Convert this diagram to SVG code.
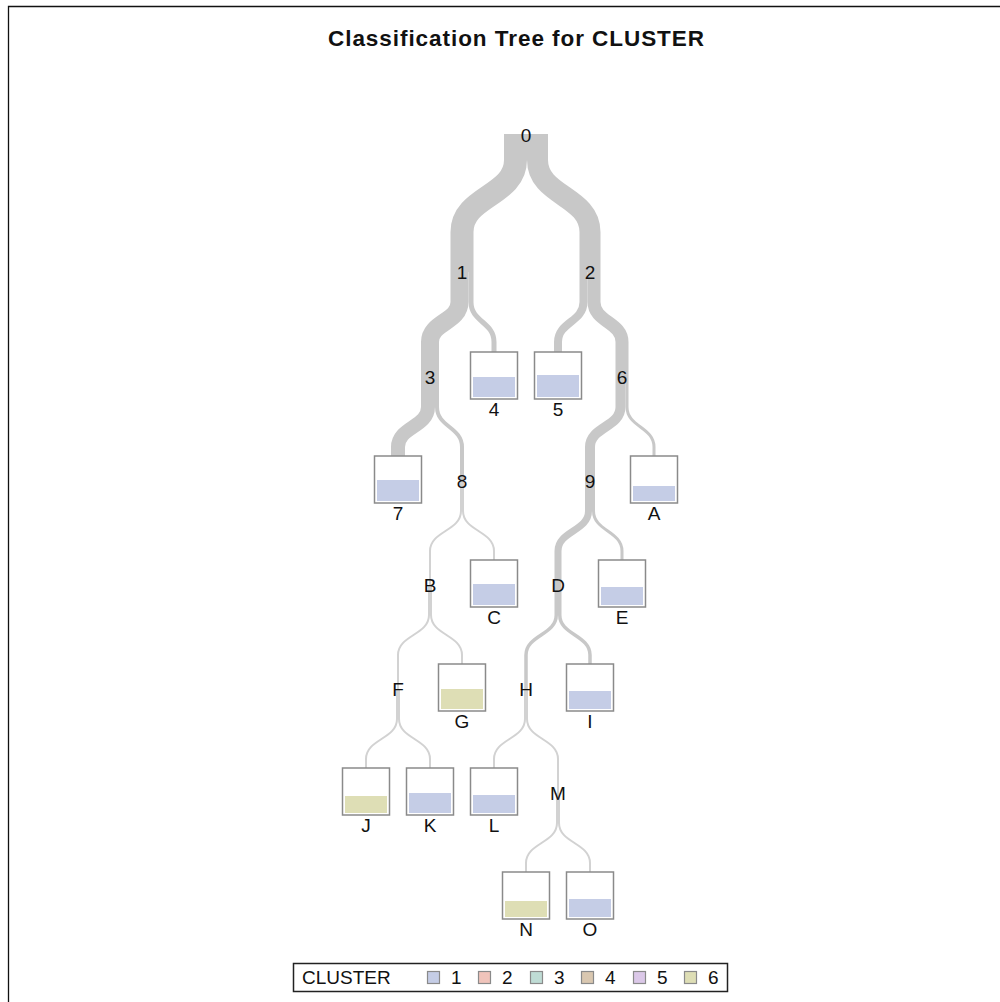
<svg xmlns="http://www.w3.org/2000/svg" width="1000" height="1002" viewBox="0 0 1000 1002">
  <style>
    text { font-family: "Liberation Sans", Arial, sans-serif; fill: #111; }
    .title { font-size: 22.5px; font-weight: bold; }
    .lbl { font-size: 19px; text-anchor: middle; }
    .leg { font-size: 19px; }
    .edge { fill: none; stroke: #c8c8c8; stroke-linecap: butt; }
    .thin { stroke: #d2d2d2; }
    .box { fill: #fff; stroke: #8a8a8a; stroke-width: 1.5; }
    .c1 { fill: #c5cde6; }
    .c2 { fill: #f0c4bb; }
    .c3 { fill: #bfdcd5; }
    .c4 { fill: #d9c7b0; }
    .c5 { fill: #dbc8e8; }
    .c6 { fill: #dedeb5; }
    .sw { stroke: #8a8a8a; stroke-width: 1.2; }
  </style>

  <rect x="0" y="0" width="1000" height="1002" fill="#fff"/>
  <!-- frame -->
  <path d="M8.5,1002 L8.5,6.5 L1000,6.5" fill="none" stroke="#111" stroke-width="1.3"/>

  <text class="title" x="516" y="46" text-anchor="middle" textLength="376" lengthAdjust="spacing">Classification Tree for CLUSTER</text>

  <!-- branch ribbons; stroke width is proportional to the observations that follow the branch -->
  <g id="connectors">
    <path class="edge" stroke-width="23" d="M515.5,134 L515.5,160 C515.5,196 462,196 462,232 L462,272"/>
    <path class="edge" stroke-width="21" d="M537.5,134 L537.5,160 C537.5,196 590,196 590,232 L590,272"/>

    <path class="edge" stroke-width="18" d="M459.5,272 L459.5,302 C459.5,322 430,322 430,342 L430,377"/>
    <path class="edge" stroke-width="5" d="M471,272 L471,302 C471,322 494,322 494,342 L494,352"/>

    <path class="edge" stroke-width="14" d="M428,377 L428,407 C428,427 398,427 398,447 L398,456"/>
    <path class="edge" stroke-width="4" d="M437,377 L437,407 C437,427 462,427 462,447 L462,481"/>

    <path class="edge thin" stroke-width="2" d="M461,481 L461,511 C461,531 430,531 430,551 L430,585"/>
    <path class="edge thin" stroke-width="2" d="M463,481 L463,511 C463,531 494,531 494,551 L494,560"/>

    <path class="edge thin" stroke-width="2" d="M429,585 L429,615 C429,635 398,635 398,655 L398,689"/>
    <path class="edge thin" stroke-width="2" d="M431,585 L431,615 C431,635 462,635 462,655 L462,664"/>

    <path class="edge thin" stroke-width="2" d="M397,689 L397,719 C397,739 366,739 366,759 L366,768"/>
    <path class="edge thin" stroke-width="2" d="M399,689 L399,719 C399,739 430,739 430,759 L430,768"/>

    <path class="edge" stroke-width="8" d="M583.5,272 L583.5,302 C583.5,322 558,322 558,342 L558,352"/>
    <path class="edge" stroke-width="13" d="M594,272 L594,302 C594,322 622,322 622,342 L622,377"/>

    <path class="edge" stroke-width="10" d="M620.5,377 L620.5,407 C620.5,427 590,427 590,447 L590,481"/>
    <path class="edge" stroke-width="3" d="M627,377 L627,407 C627,427 654,427 654,447 L654,456"/>

    <path class="edge" stroke-width="7" d="M588.5,481 L588.5,511 C588.5,531 558,531 558,551 L558,585"/>
    <path class="edge" stroke-width="3" d="M593.5,481 L593.5,511 C593.5,531 622,531 622,551 L622,560"/>

    <path class="edge" stroke-width="3.5" d="M556.25,585 L556.25,615 C556.25,635 526,635 526,655 L526,689"/>
    <path class="edge" stroke-width="3.5" d="M559.75,585 L559.75,615 C559.75,635 590,635 590,655 L590,664"/>

    <path class="edge thin" stroke-width="2" d="M525,689 L525,719 C525,739 494,739 494,759 L494,768"/>
    <path class="edge thin" stroke-width="2" d="M527,689 L527,719 C527,739 558,739 558,759 L558,793"/>

    <path class="edge thin" stroke-width="2" d="M557,793 L557,823 C557,843 526,843 526,863 L526,872"/>
    <path class="edge thin" stroke-width="2" d="M559,793 L559,823 C559,843 590,843 590,863 L590,872"/>
  </g>

  <!-- split nodes -->
  <g id="node-0"><text class="lbl" x="526" y="142">0</text></g>
  <g id="node-1"><text class="lbl" x="462" y="279">1</text></g>
  <g id="node-2"><text class="lbl" x="590" y="279">2</text></g>
  <g id="node-3"><text class="lbl" x="430" y="384">3</text></g>
  <g id="node-6"><text class="lbl" x="622" y="384">6</text></g>
  <g id="node-8"><text class="lbl" x="462" y="488">8</text></g>
  <g id="node-9"><text class="lbl" x="590" y="488">9</text></g>
  <g id="node-B"><text class="lbl" x="430" y="592">B</text></g>
  <g id="node-D"><text class="lbl" x="558" y="592">D</text></g>
  <g id="node-F"><text class="lbl" x="398" y="696">F</text></g>
  <g id="node-H"><text class="lbl" x="526" y="696">H</text></g>
  <g id="node-M"><text class="lbl" x="558" y="800">M</text></g>

  <!-- leaf nodes: box with a bar showing the share of the predicted cluster -->
  <g id="node-4">
    <rect class="box" x="470.5" y="352" width="47" height="47"/>
    <rect class="c1" x="473" y="377" width="42" height="20"/>
    <text class="lbl" x="494" y="416">4</text>
  </g>
  <g id="node-5">
    <rect class="box" x="534.5" y="352" width="47" height="47"/>
    <rect class="c1" x="537" y="375" width="42" height="22"/>
    <text class="lbl" x="558" y="416">5</text>
  </g>
  <g id="node-7">
    <rect class="box" x="374.5" y="456" width="47" height="47"/>
    <rect class="c1" x="377" y="480" width="42" height="21"/>
    <text class="lbl" x="398" y="520">7</text>
  </g>
  <g id="node-A">
    <rect class="box" x="630.5" y="456" width="47" height="47"/>
    <rect class="c1" x="633" y="486" width="42" height="15"/>
    <text class="lbl" x="654" y="520">A</text>
  </g>
  <g id="node-C">
    <rect class="box" x="470.5" y="560" width="47" height="47"/>
    <rect class="c1" x="473" y="584" width="42" height="21"/>
    <text class="lbl" x="494" y="624">C</text>
  </g>
  <g id="node-E">
    <rect class="box" x="598.5" y="560" width="47" height="47"/>
    <rect class="c1" x="601" y="587" width="42" height="18"/>
    <text class="lbl" x="622" y="624">E</text>
  </g>
  <g id="node-G">
    <rect class="box" x="438.5" y="664" width="47" height="47"/>
    <rect class="c6" x="441" y="689" width="42" height="20"/>
    <text class="lbl" x="462" y="728">G</text>
  </g>
  <g id="node-I">
    <rect class="box" x="566.5" y="664" width="47" height="47"/>
    <rect class="c1" x="569" y="691" width="42" height="18"/>
    <text class="lbl" x="590" y="728">I</text>
  </g>
  <g id="node-J">
    <rect class="box" x="342.5" y="768" width="47" height="47"/>
    <rect class="c6" x="345" y="796" width="42" height="17"/>
    <text class="lbl" x="366" y="832">J</text>
  </g>
  <g id="node-K">
    <rect class="box" x="406.5" y="768" width="47" height="47"/>
    <rect class="c1" x="409" y="793" width="42" height="20"/>
    <text class="lbl" x="430" y="832">K</text>
  </g>
  <g id="node-L">
    <rect class="box" x="470.5" y="768" width="47" height="47"/>
    <rect class="c1" x="473" y="795" width="42" height="18"/>
    <text class="lbl" x="494" y="832">L</text>
  </g>
  <g id="node-N">
    <rect class="box" x="502.5" y="872" width="47" height="47"/>
    <rect class="c6" x="505" y="901" width="42" height="16"/>
    <text class="lbl" x="526" y="936">N</text>
  </g>
  <g id="node-O">
    <rect class="box" x="566.5" y="872" width="47" height="47"/>
    <rect class="c1" x="569" y="899" width="42" height="18"/>
    <text class="lbl" x="590" y="936">O</text>
  </g>

  <!-- legend -->
  <g id="legend">
    <rect x="293.5" y="963.5" width="434" height="28" fill="#fff" stroke="#222" stroke-width="1.5"/>
    <text class="leg" x="302" y="984">CLUSTER</text>
    <rect class="c1 sw" x="427.5" y="971.5" width="12" height="12"/>
    <text class="leg" x="451" y="984">1</text>
    <rect class="c2 sw" x="478.5" y="971.5" width="12" height="12"/>
    <text class="leg" x="502" y="984">2</text>
    <rect class="c3 sw" x="530.5" y="971.5" width="12" height="12"/>
    <text class="leg" x="554" y="984">3</text>
    <rect class="c4 sw" x="581.5" y="971.5" width="12" height="12"/>
    <text class="leg" x="605" y="984">4</text>
    <rect class="c5 sw" x="633.5" y="971.5" width="12" height="12"/>
    <text class="leg" x="657" y="984">5</text>
    <rect class="c6 sw" x="684.5" y="971.5" width="12" height="12"/>
    <text class="leg" x="708" y="984">6</text>
  </g>
</svg>
